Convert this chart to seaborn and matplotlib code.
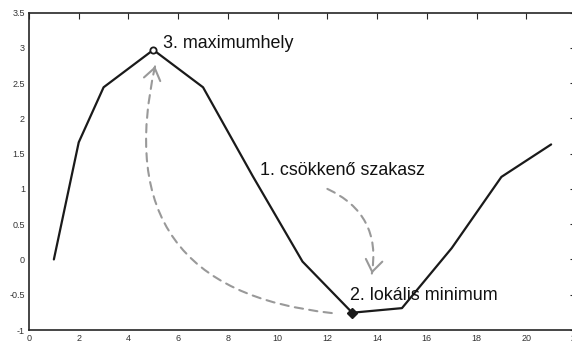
import numpy as np
import pandas as pd
import matplotlib
matplotlib.use("Agg")
import matplotlib.pyplot as plt
from matplotlib.patches import FancyArrowPatch
import seaborn as sns

# Sampled curve
x_vals = [1, 2, 3, 5, 7, 9, 11, 13, 15, 17, 19, 21]
y_vals = [0.0, 1.66, 2.44, 2.97, 2.44, 1.18, -0.03, -0.755, -0.69, 0.16, 1.17, 1.63]

# Axis ticks
x_ticks = list(range(0, 23, 2))
y_ticks = [-1, -0.5, 0, 0.5, 1, 1.5, 2, 2.5, 3, 3.5]
y_tick_labels = ["-1", "-0.5", "0", "0.5", "1", "1.5", "2", "2.5", "3", "3.5"]

# Annotations
label_max = "3. maximumhely"
label_dec = "1. csökkenő szakasz"
label_min = "2. lokális minimum"

sns.set_theme(style="white")
plt.rcParams["font.family"] = ["Liberation Sans", "DejaVu Sans"]

df = pd.DataFrame({"x": x_vals, "y": y_vals})

fig = plt.figure(figsize=(5.72, 3.43), dpi=100)
ax = fig.add_axes([29 / 572, 1 - 330 / 343, (576 - 29) / 572, (330 - 12.5) / 343])

sns.lineplot(data=df, x="x", y="y", ax=ax, color="#1a1a1a", linewidth=1.6,
             sort=False, estimator=None)

i_max = int(np.argmax(y_vals))
i_min = int(np.argmin(y_vals))
ax.plot(x_vals[i_max], y_vals[i_max], marker="o", markersize=4.5,
        markerfacecolor="white", markeredgecolor="#1a1a1a", markeredgewidth=1.3,
        zorder=5)
ax.plot(x_vals[i_min], y_vals[i_min], marker="D", markersize=5.5,
        color="#1a1a1a", zorder=5)

ax.set_xlim(0, 22)
ax.set_ylim(-1, 3.5)
ax.set_xticks(x_ticks)
ax.set_xticklabels([str(t) for t in x_ticks])
ax.set_yticks(y_ticks)
ax.set_yticklabels(y_tick_labels)
ax.set_xlabel("")
ax.set_ylabel("")

for side in ["left", "bottom", "top", "right"]:
    ax.spines[side].set_visible(True)
    ax.spines[side].set_color("#262626")
    ax.spines[side].set_linewidth(1.2)

ax.tick_params(axis="both", which="both", direction="in", length=4,
               width=0.8, color="#262626", labelsize=6.5, labelcolor="#333333",
               top=True, right=True, pad=3)

txt_kw = dict(fontsize=12.9, color="#111111", ha="left", va="baseline")
ax.text(5.38, 3.0, label_max, **txt_kw)
ax.text(9.3, 1.20, label_dec, **txt_kw)
ax.text(12.9, -0.58, label_min, **txt_kw)

ARROW_COLOR = "#999999"


def curved_arrow(start, end, rad):
    """Dashed arc3 curve with a solid open arrowhead at its end."""
    ax.add_patch(FancyArrowPatch(start, end, connectionstyle=f"arc3,rad={rad}",
                                 arrowstyle="-", color=ARROW_COLOR,
                                 linewidth=1.5, linestyle=(0, (4, 3)),
                                 shrinkA=0, shrinkB=0))
    # tangent at the end of the quadratic curve, in display space
    p1 = ax.transData.transform(start)
    p2 = ax.transData.transform(end)
    d = p2 - p1
    ctrl = (p1 + p2) / 2 + rad * np.array([d[1], -d[0]])
    tangent = p2 - ctrl
    tangent /= np.hypot(*tangent)
    tail = ax.transData.inverted().transform(p2 - 2.0 * tangent)
    ax.add_patch(FancyArrowPatch(tuple(tail), end,
                                 arrowstyle="->,head_length=0.42,head_width=0.3",
                                 mutation_scale=20, color=ARROW_COLOR,
                                 linewidth=1.5, shrinkA=0, shrinkB=0))


curved_arrow((12.0, 1.0), (13.79, -0.2), -0.38)
curved_arrow((12.18, -0.76), (5.07, 2.74), -0.56)

fig.savefig("out.png", dpi=100)
